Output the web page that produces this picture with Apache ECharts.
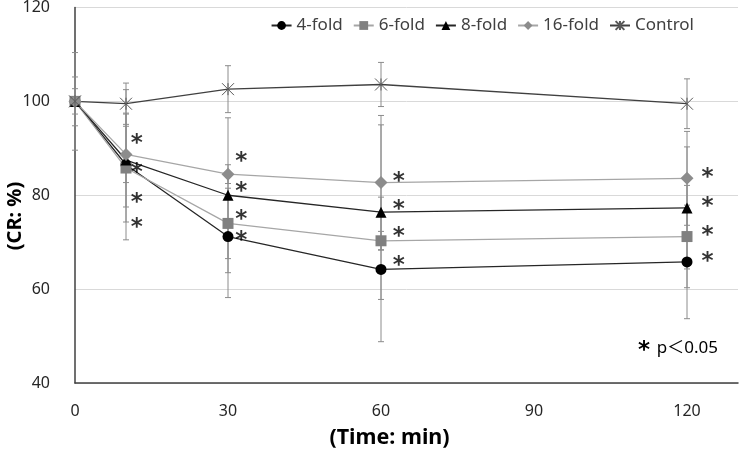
<!DOCTYPE html>
<html>
<head>
<meta charset="utf-8">
<script src="https://cdn.jsdelivr.net/npm/echarts@6/dist/echarts.min.js"></script>
<style>
  html, body { margin: 0; padding: 0; background: #fff; }
  #chart { width: 740px; height: 454px; }
</style>
</head>
<body>
<div id="chart"></div>
<script>
const times = [0, 10, 30, 60, 120]
const fold4 = [100, 86.5, 71.2, 64.2, 65.8]
const fold4Err = [10.4, 16, 13, 15.4, 12.1]
const fold6 = [100, 85.8, 74.0, 70.3, 71.2]
const fold6Err = [5.2, 11.5, 7.5, 2, 10.9]
const fold8 = [100, 87.5, 80.0, 76.4, 77.3]
const fold8Err = [2.7, 10, 16.5, 18.6, 13]
const fold16 = [100, 88.7, 84.5, 82.7, 83.6]
const fold16Err = [0, 6, 2, 14.3, 10]
const control = [100, 99.5, 102.6, 103.6, 99.5]
const controlErr = [0, 4.4, 5, 4.7, 5.3]
const xTicks = [0, 30, 60, 90, 120]
// significance asterisks (data units)
const starX = [12.1, 12.1, 12.1, 12.1, 32.6, 32.6, 32.6, 32.6, 63.5, 63.5, 63.5, 63.5, 124, 124, 124, 124]
const starY = [92.2, 86.0, 79.7, 74.3, 88.3, 82.0, 75.9, 71.6, 84.1, 78.2, 72.3, 66.1, 84.9, 78.7, 72.5, 67.1]

const font = '"Noto Sans", "Noto Sans CJK JP", sans-serif'
const starFont = '"DejaVu Sans", sans-serif'
const starPath = 'path://M0,0L10,10M10,0L0,10M5,0L5,10'

const pairs = (ys) => times.map((t, i) => [t, ys[i]])

const errorBars = (ys, errs) => ({
  type: 'custom',
  z: 1,
  silent: true,
  data: times.map((t, i) => [t, ys[i] - errs[i], ys[i] + errs[i]]),
  renderItem: (params, api) => {
    if (api.value(2) === api.value(1)) return
    const lo = api.coord([api.value(0), api.value(1)])
    const hi = api.coord([api.value(0), api.value(2)])
    const w = 3
    const style = { stroke: '#8c8c8c', lineWidth: 1 }
    return {
      type: 'group',
      children: [
        { type: 'line', shape: { x1: lo[0], y1: lo[1], x2: hi[0], y2: hi[1] }, style },
        { type: 'line', shape: { x1: lo[0] - w, y1: lo[1], x2: lo[0] + w, y2: lo[1] }, style },
        { type: 'line', shape: { x1: hi[0] - w, y1: hi[1], x2: hi[0] + w, y2: hi[1] }, style }
      ]
    }
  }
})

const lineSeries = (name, ys, lineColor, symbol, size, fill, border) => ({
  name,
  type: 'line',
  z: 3,
  data: pairs(ys),
  symbol,
  symbolSize: size,
  showAllSymbol: true,
  lineStyle: { color: lineColor, width: 1.3 },
  itemStyle: border
    ? { color: 'rgba(0,0,0,0)', borderColor: border, borderWidth: 1 }
    : { color: fill, borderWidth: 0 },
  emphasis: { disabled: true }
})

const chart = echarts.init(document.getElementById('chart'))
const option = {
  animation: false,
  textStyle: { fontFamily: font },
  grid: { left: 75, right: 2, top: 7.5, bottom: 71, outerBoundsMode: 'none' },
  legend: {
    top: 12,
    right: 41,
    itemWidth: 20,
    itemHeight: 11,
    itemGap: 10,
    textStyle: { fontSize: 17, color: '#404040', fontFamily: font },
    data: ['4-fold', '6-fold', '8-fold', '16-fold', 'Control']
  },
  xAxis: {
    type: 'value',
    min: 0,
    max: 130,
    interval: 30,
    name: '(Time: min)',
    nameLocation: 'middle',
    nameGap: 44,
    nameTextStyle: { fontSize: 21.5, fontWeight: 'bold', color: '#000', fontFamily: font, padding: [0, 34, 0, 0] },
    axisLine: { lineStyle: { color: '#404040', width: 1.5 } },
    axisTick: { show: false },
    splitLine: { show: false },
    axisLabel: {
      fontSize: 16,
      color: '#262626',
      margin: 20,
      showMaxLabel: false,
      formatter: (v) => (xTicks.includes(v) ? String(v) : '')
    }
  },
  yAxis: {
    type: 'value',
    min: 40,
    max: 120,
    interval: 20,
    axisLine: { show: true, lineStyle: { color: '#404040', width: 1.5 } },
    axisTick: { show: false },
    splitLine: { lineStyle: { color: '#d9d9d9', width: 1 } },
    axisLabel: { fontSize: 16, color: '#262626', margin: 25 }
  },
  series: [
    errorBars(fold4, fold4Err),
    errorBars(fold6, fold6Err),
    errorBars(fold8, fold8Err),
    errorBars(fold16, fold16Err),
    errorBars(control, controlErr),
    lineSeries('4-fold', fold4, '#262626', 'circle', 11, '#000'),
    lineSeries('6-fold', fold6, '#a6a6a6', 'rect', 11, '#808080'),
    lineSeries('8-fold', fold8, '#262626', 'triangle', 11, '#000'),
    lineSeries('16-fold', fold16, '#a6a6a6', 'diamond', 13, '#8c8c8c'),
    lineSeries('Control', control, '#404040', starPath, 12, null, '#595959'),
    {
      type: 'scatter',
      z: 4,
      silent: true,
      symbol: 'circle',
      symbolSize: 1,
      itemStyle: { color: 'rgba(0,0,0,0)' },
      data: starX.map((x, i) => [x, starY[i]]),
      label: {
        show: true,
        position: 'inside',
        formatter: '*',
        fontSize: 23,
        fontWeight: 'bold',
        color: '#000',
        fontFamily: starFont,
        offset: [0, 6]
      }
    }
  ],
  graphic: [
    {
      type: 'text',
      x: 15,
      y: 216,
      rotation: Math.PI / 2,
      style: {
        text: '(CR: %)',
        font: 'bold 20px "Noto Sans", sans-serif',
        fill: '#000',
        align: 'center',
        verticalAlign: 'middle'
      }
    },
    {
      type: 'text',
      right: 22,
      top: 340,
      style: {
        text: '{a|*}  {b|p＜0.05}',
        rich: {
          a: { fontSize: 23, fontWeight: 'bold', fontFamily: starFont, color: '#000', padding: [6, 0, 0, 0] },
          b: { fontSize: 17, fontFamily: font, color: '#262626' }
        }
      }
    }
  ]
}
chart.setOption(option)
window.addEventListener('resize', () => chart.resize())
</script>
</body>
</html>
